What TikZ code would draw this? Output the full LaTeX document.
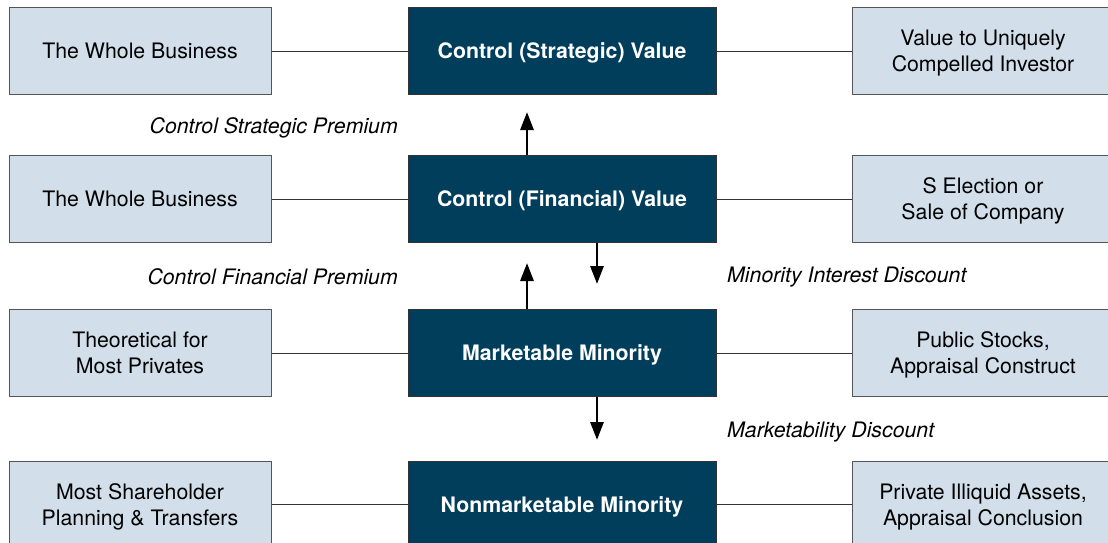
\documentclass[tikz,border=0pt]{standalone}
\usepackage{fontspec}
\setmainfont{TeX Gyre Heros}
\usetikzlibrary{positioning, arrows.meta}

\definecolor{navy}{RGB}{0,62,92}
\definecolor{paleblue}{RGB}{210,223,234}
\definecolor{edgegray}{RGB}{85,85,85}

\begin{document}
\begin{tikzpicture}[x=1pt, y=-1pt, font=\fontsize{21.3}{26}\selectfont,
	side/.style={draw=edgegray, line width=1pt, fill=paleblue, minimum width=262pt, minimum height=87pt, inner sep=0pt, align=center, text depth=0pt},
	level/.style={draw=black!80, line width=1pt, fill=navy, text=white, font=\fontsize{21.3}{26}\selectfont\bfseries, minimum width=308pt, minimum height=87pt, inner sep=0pt, align=center, text depth=0pt},
	tag/.style={font=\fontsize{21.3}{26}\selectfont\itshape, inner sep=0pt},
	link/.style={draw=black!80, line width=0.8pt},
	valarrow/.style={-{Triangle[width=13pt,length=18pt]}, line width=2.9pt}]
		
		\useasboundingbox (0,0) rectangle (1108,543);
		
		\node[level] (c1) at (562,51) {Control (Strategic) Value};
		\node[level] (c2) at (562,199) {Control (Financial) Value};
		\node[level] (c3) at (562,353) {Marketable Minority};
		\node[level] (c4) at (562,504.5) {Nonmarketable Minority};
		
		\node[side] (l1) [left=136pt of c1] {The Whole Business};
		\node[side] (l2) [left=136pt of c2] {The Whole Business};
		\node[side] (l3) [left=136pt of c3] {Theoretical for\\Most Privates};
		\node[side] (l4) [left=136pt of c4] {Most Shareholder\\Planning \& Transfers};
		
		\node[side] (r1) [right=135pt of c1] {Value to Uniquely\\Compelled Investor};
		\node[side] (r2) [right=135pt of c2] {S Election or\\Sale of Company};
		\node[side] (r3) [right=135pt of c3] {Public Stocks,\\Appraisal Construct};
		\node[side] (r4) [right=135pt of c4] {Private Illiquid Assets,\\Appraisal Conclusion};
		
		\node[tag, anchor=east] (p1) at (398,128) {Control Strategic Premium};
		\node[tag, anchor=east] (p2) at (398,277) {Control Financial Premium};
		\node[tag, anchor=west] (d1) at (727,277) {Minority Interest Discount};
		\node[tag, anchor=west] (d2) at (727,432) {Marketability Discount};
		
		\coordinate (u1) at (527,112);
		\coordinate (u2) at (527,263);
		\coordinate (w1) at (597,284);
		\coordinate (w2) at (597,440);
		
		\foreach \i in {1,...,4} {
			\draw[link] (l\i) -- (c\i);
			\draw[link] (c\i) -- (r\i);
		}
		
		\draw[valarrow] (c2.north -| u1) -- (u1);
		\draw[valarrow] (c3.north -| u2) -- (u2);
		\draw[valarrow] (c2.south -| w1) -- (w1);
		\draw[valarrow] (c3.south -| w2) -- (w2);
		
\end{tikzpicture}
\end{document}
